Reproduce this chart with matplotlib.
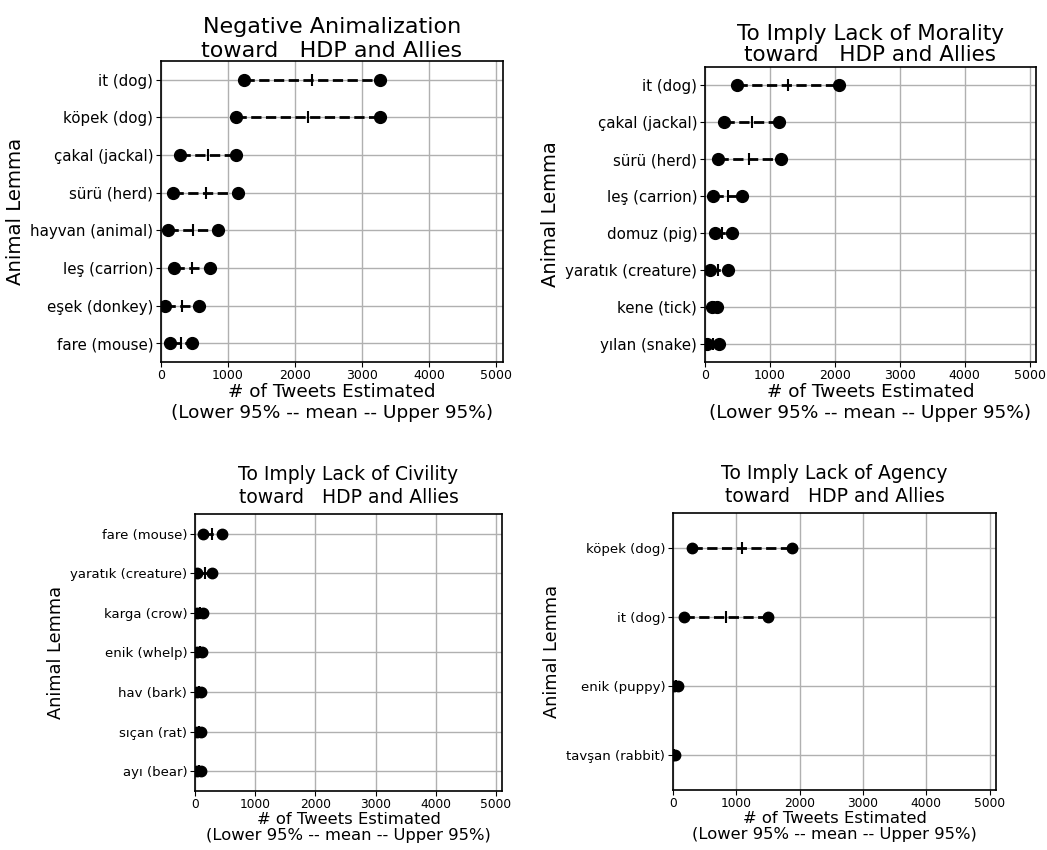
import matplotlib
matplotlib.use("Agg")
import matplotlib.pyplot as plt

W, H = 1047, 850

# ---- data ----
neg_labels = ["it (dog)", "köpek (dog)", "çakal (jackal)", "sürü (herd)",
              "hayvan (animal)", "leş (carrion)", "eşek (donkey)", "fare (mouse)"]
neg_low = [1243, 1124, 284, 174, 100, 194, 55, 134]
neg_mean = [2249, 2199, 707, 667, 483, 458, 309, 299]
neg_high = [3269, 3269, 1124, 1145, 855, 726, 562, 467]

mor_labels = ["it (dog)", "çakal (jackal)", "sürü (herd)", "leş (carrion)",
              "domuz (pig)", "yaratık (creature)", "kene (tick)", "yılan (snake)"]
mor_low = [490, 298, 206, 119, 155, 77, 103, 36]
mor_mean = [1278, 722, 680, 350, 268, 206, 140, 120]
mor_high = [2071, 1133, 1170, 577, 412, 350, 180, 216]

civ_labels = ["fare (mouse)", "yaratık (creature)", "karga (crow)", "enik (whelp)",
              "hav (bark)", "sıçan (rat)", "ayı (bear)"]
civ_low = [128, 39, 28, 40, 35, 30, 30]
civ_mean = [289, 167, 80, 75, 70, 65, 65]
civ_high = [456, 278, 139, 111, 105, 100, 100]

agn_labels = ["köpek (dog)", "it (dog)", "enik (puppy)", "tavşan (rabbit)"]
agn_low = [300, 174, 10, 5]
agn_mean = [1096, 843, 45, 22]
agn_high = [1886, 1500, 79, 38]

xticks = [0, 1000, 2000, 3000, 4000, 5000]

# (title, labels, low, mean, high, axes box px, style)
panels = [
    ("Negative Animalization\ntoward   HDP and Allies", neg_labels, neg_low, neg_mean, neg_high,
     (161, 503, 61, 362),
     dict(title=16, tls=1.22, tpad=2, ytick=10.8, xtick=9, xlab=13.3, xls=1.2, ylab=14.2, ms=8.5)),
    ("To Imply Lack of Morality\ntoward   HDP and Allies", mor_labels, mor_low, mor_mean, mor_high,
     (705, 1036, 67, 362),
     dict(title=15.5, tls=1.12, tpad=4, ytick=10.8, xtick=9, xlab=13.3, xls=1.2, ylab=14.0, ms=8.5)),
    ("To Imply Lack of Civility\ntoward   HDP and Allies", civ_labels, civ_low, civ_mean, civ_high,
     (195, 502, 514, 791),
     dict(title=13.5, tls=1.25, tpad=8, ytick=9.5, xtick=8.8, xlab=11.8, xls=1.05, ylab=12.8, ms=7.5)),
    ("To Imply Lack of Agency\ntoward   HDP and Allies", agn_labels, agn_low, agn_mean, agn_high,
     (673, 996, 513, 790),
     dict(title=13.5, tls=1.25, tpad=8, ytick=9.5, xtick=8.8, xlab=11.8, xls=1.05, ylab=12.8, ms=7.5)),
]

fig = plt.figure(figsize=(W / 100, H / 100), dpi=100)

for title, labels, low, mean, high, (x0, x1, y0, y1), st in panels:
    ax = fig.add_axes([x0 / W, 1 - y1 / H, (x1 - x0) / W, (y1 - y0) / H])
    n = len(labels)
    ys = list(range(n))
    for y, lo, mu, hi in zip(ys, low, mean, high):
        ax.plot([lo, hi], [y, y], linestyle="--", color="black", linewidth=2, zorder=3)
        ax.plot([lo, hi], [y, y], linestyle="none", marker="o", color="black",
                markersize=st["ms"], zorder=4)
        ax.plot([mu], [y], linestyle="none", marker="|", color="black",
                markersize=8, markeredgewidth=1.5, zorder=4)
    ax.set_yticks(ys)
    ax.set_yticklabels(labels, fontsize=st["ytick"])
    ax.set_ylim(n - 0.5, -0.5)
    ax.set_xlim(0, 5100)
    ax.set_xticks(xticks)
    ax.tick_params(axis="x", labelsize=st["xtick"], pad=1.5, length=3.5)
    ax.tick_params(axis="y", pad=2, length=3.5)
    ax.grid(True, color="#b0b0b0", linewidth=1)
    ax.set_axisbelow(True)
    ax.set_title(title, fontsize=st["title"], linespacing=st["tls"], pad=st["tpad"])
    ax.set_xlabel("# of Tweets Estimated\n(Lower 95% -- mean -- Upper 95%)",
                  fontsize=st["xlab"], linespacing=st["xls"], labelpad=1)
    ax.set_ylabel("Animal Lemma", fontsize=st["ylab"])
    for s in ax.spines.values():
        s.set_linewidth(1.2)

fig.savefig("out.png", dpi=100, facecolor="white")
